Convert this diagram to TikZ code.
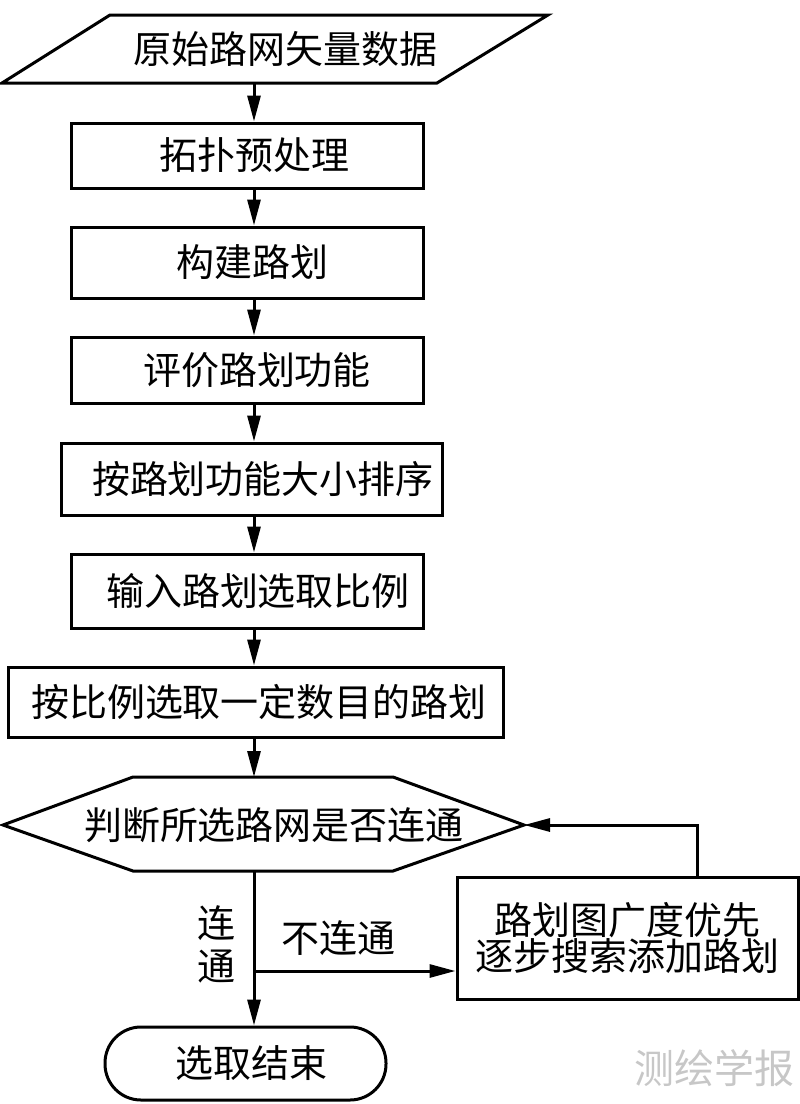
\documentclass[tikz,border=0pt]{standalone}
\usepackage{fontspec}
\newfontfamily\cjk{Noto Sans CJK SC}
\usetikzlibrary{arrows.meta}
\newcommand{\pushr}[1]{\hspace*{#1pt}}
\begin{document}
\begin{tikzpicture}[x=1pt,y=-1pt,
  every node/.style={font=\cjk\fontsize{38}{36}\selectfont},
  proc/.style={draw, line width=3pt, inner sep=0pt},
  shapeline/.style={line width=3pt, line join=miter},
  flow/.style={line width=3pt, -{Triangle[length=26pt,width=13pt]}},
  lbl/.style={inner sep=0pt}
]
\useasboundingbox (0,0) rectangle (800,1104);
% input parallelogram
\draw[shapeline] (110,15) -- (548,15) -- (437,83) -- (2,83) -- cycle;
\node[lbl] (src) at (285,49) {原始路网矢量数据};
\coordinate (srcB) at (254,83);
% process boxes
\node[proc, minimum width=352pt, minimum height=65pt] (b1) at (247,155.5) {\pushr{14}拓扑预处理};
\node[proc, minimum width=352pt, minimum height=71pt] (b2) at (247,262.5) {\pushr{10}构建路划};
\node[proc, minimum width=352pt, minimum height=66pt] (b3) at (247,370) {\pushr{20}评价路划功能};
\node[proc, minimum width=381pt, minimum height=72pt] (b4) at (251.5,479) {\pushr{23}按路划功能大小排序};
\node[proc, minimum width=352pt, minimum height=74pt] (b5) at (247,591) {\pushr{22}输入路划选取比例};
\node[proc, minimum width=495pt, minimum height=70pt] (b6) at (255.5,702) {\pushr{7}按比例选取一定数目的路划};
% decision hexagon
\draw[shapeline] (3,825) -- (133,777) -- (393,777) -- (524,825) -- (393,871) -- (133,871) -- cycle;
\node[lbl] (hex) at (274,825) {判断所选路网是否连通};
\coordinate (hexT) at (254,777);
\coordinate (hexB) at (254,871);
\coordinate (hexR) at (524,825);
% search box
\node[proc, minimum width=341pt, minimum height=122pt, align=center] (srch) at (627.5,938) {路划图广度优先\\逐步搜索添加路划};
% terminal
\node[proc, rounded corners=36pt, minimum width=281pt, minimum height=73pt] (end) at (245.5,1063.5) {\pushr{11}选取结束};
% labels
\node[lbl, align=center, font=\cjk\fontsize{38}{43}\selectfont] (lyes) at (216,944.5) {连\\通};
\node[lbl] (lno) at (338,938) {不连通};
% watermark
\node[lbl, text=black!22, font=\cjk\fontsize{40}{40}\selectfont] (wm) at (714,1068) {测绘学报};
% connectors
\draw[flow] (srcB) -- (b1.north -| srcB);
\draw[flow] (b1.south -| srcB) -- (b2.north -| srcB);
\draw[flow] (b2.south -| srcB) -- (b3.north -| srcB);
\draw[flow] (b3.south -| srcB) -- (b4.north -| srcB);
\draw[flow] (b4.south -| srcB) -- (b5.north -| srcB);
\draw[flow] (b5.south -| srcB) -- (b6.north -| srcB);
\draw[flow] (b6.south -| hexT) -- (hexT);
\draw[flow] (hexB) -- (end.north -| hexB);
\coordinate (br) at (254,971);
\draw[flow] (br) -- (srch.west |- br);
\coordinate (fbx) at (697,0);
\draw[flow] (srch.north -| fbx) -- (fbx |- hexR) -- (hexR);
\end{tikzpicture}
\end{document}
